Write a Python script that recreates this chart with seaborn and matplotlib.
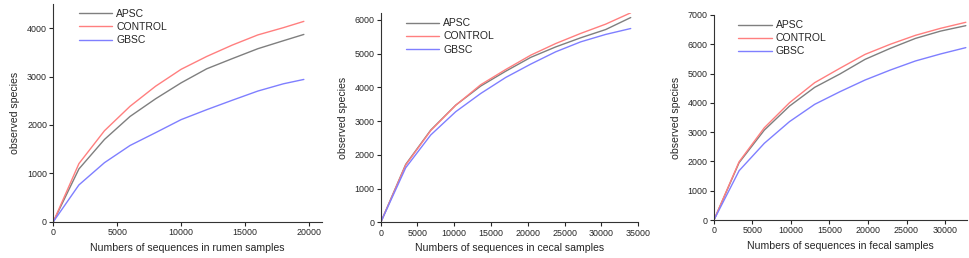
import numpy as np
import pandas as pd
import matplotlib
matplotlib.use('Agg')
import matplotlib.pyplot as plt
import seaborn as sns

groups = ['APSC', 'CONTROL', 'GBSC']
colors = ['#7f7f7f', '#ff7f7f', '#7f7fff']

# rumen
rumen_x = [0, 2000, 4000, 6000, 8000, 10000, 12000, 14000, 16000, 18000, 19600]
rumen_apsc = [0, 1090, 1700, 2175, 2540, 2870, 3160, 3370, 3575, 3740, 3870]
rumen_control = [0, 1200, 1880, 2385, 2800, 3150, 3415, 3650, 3860, 4010, 4140]
rumen_gbsc = [0, 760, 1220, 1575, 1840, 2110, 2315, 2510, 2700, 2850, 2940]

# cecal
cecal_x = [0, 3400, 6800, 10200, 13600, 17000, 20400, 23800, 27200, 30600, 34000]
cecal_apsc = [0, 1720, 2735, 3475, 4040, 4480, 4890, 5200, 5470, 5715, 6070]
cecal_control = [0, 1700, 2720, 3470, 4080, 4530, 4955, 5300, 5600, 5875, 6210]
cecal_gbsc = [0, 1620, 2590, 3280, 3820, 4295, 4690, 5055, 5350, 5570, 5745]

# fecal
fecal_x = [0, 3270, 6540, 9810, 13080, 16350, 19620, 22890, 26160, 29430, 32700]
fecal_apsc = [0, 1960, 3070, 3890, 4530, 4985, 5485, 5860, 6200, 6450, 6635]
fecal_control = [0, 1990, 3150, 4005, 4690, 5180, 5655, 6000, 6305, 6545, 6750]
fecal_gbsc = [0, 1685, 2620, 3360, 3950, 4380, 4780, 5120, 5430, 5670, 5885]

panels = [
    ('rumen', rumen_x, [rumen_apsc, rumen_control, rumen_gbsc],
     [0.055, 0.1407, 0.2767, 0.844], (0, 21000), (0, 4500),
     [0, 5000, 10000, 15000, 20000], [0, 1000, 2000, 3000, 4000]),
    ('cecal', cecal_x, [cecal_apsc, cecal_control, cecal_gbsc],
     [0.3925, 0.138, 0.2653, 0.811], (0, 35000), (0, 6200),
     [0, 5000, 10000, 15000, 20000, 25000, 30000, 35000],
     [0, 1000, 2000, 3000, 4000, 5000, 6000]),
    ('fecal', fecal_x, [fecal_apsc, fecal_control, fecal_gbsc],
     [0.736, 0.147, 0.2605, 0.795], (0, 32800), (0, 7000),
     [0, 5000, 10000, 15000, 20000, 25000, 30000],
     [0, 1000, 2000, 3000, 4000, 5000, 6000, 7000]),
]

sns.set_style('ticks')
plt.rcParams['font.family'] = ['Liberation Sans', 'DejaVu Sans']

fig = plt.figure(figsize=(9.7, 2.58), dpi=100)

for name, xs, series, pos, xlim, ylim, xt, yt in panels:
    rows = []
    for g, vals in zip(groups, series):
        for x, v in zip(xs, vals):
            rows.append({'seqs': x, 'species': v, 'group': g})
    df = pd.DataFrame(rows)

    ax = fig.add_axes(pos)
    sns.lineplot(data=df, x='seqs', y='species', hue='group',
                 palette=colors, linewidth=1.0, ax=ax)
    ax.set_xlim(xlim)
    ax.set_ylim(ylim)
    ax.set_xticks(xt)
    ax.set_yticks(yt)
    ax.tick_params(labelsize=6.4, length=3, width=0.8, pad=1.5)
    ax.set_xlabel('Numbers of sequences in ' + name + ' samples', fontsize=7.6, labelpad=4)
    ax.set_ylabel('observed species', fontsize=7.6, labelpad=5)
    sns.despine(ax=ax)
    for s in ['left', 'bottom']:
        ax.spines[s].set_linewidth(0.8)
        ax.spines[s].set_color('#333333')
    ax.legend(loc='upper left', bbox_to_anchor=(0.06, 1.02), frameon=False,
              fontsize=7.5, handlelength=3.2, handletextpad=0.4,
              labelspacing=0.3, title=None)

fig.savefig('out.png', dpi=100)
